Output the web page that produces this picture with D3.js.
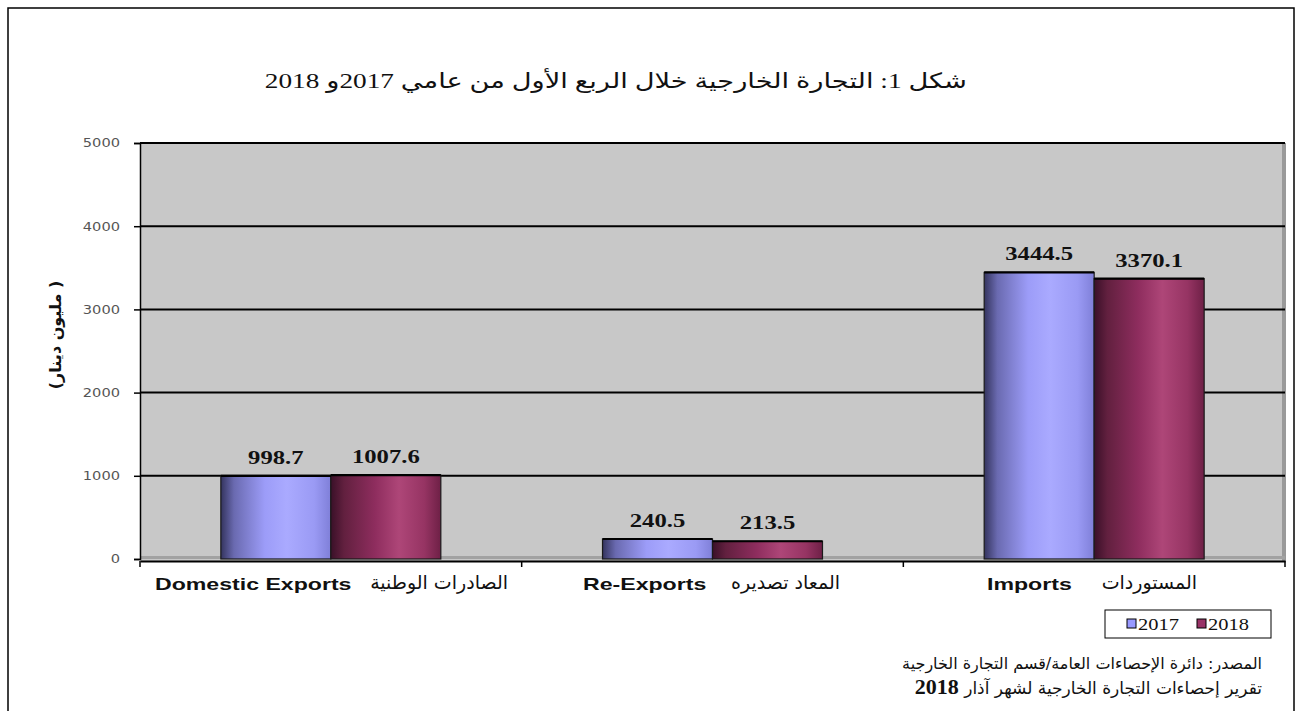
<!DOCTYPE html>
<html><head><meta charset="utf-8">
<script src="https://cdn.jsdelivr.net/npm/d3@7"></script>
<style>body{margin:0;background:#fff}svg{display:block}</style>
</head><body>
<svg id="c" width="1298" height="711"></svg>
<script>
const categoriesEn = ["Domestic Exports", "Re-Exports", "Imports"];
const categoriesAr = ["الصادرات الوطنية", "المعاد تصديره", "المستوردات"];
const series = ["2017", "2018"];
const values2017 = [998.7, 240.5, 3444.5];
const values2018 = [1007.6, 213.5, 3370.1];
const yTicks = [0, 1000, 2000, 3000, 4000, 5000];
const titleText = "شكل 1: التجارة الخارجية خلال الربع الأول من عامي  2017و 2018";
const yTitle = "( مليون دينار)";
const source1 = "المصدر: دائرة الإحصاءات العامة/قسم التجارة الخارجية";
const source2 = "تقرير إحصاءات التجارة الخارجية لشهر آذار";
const source2Year = "2018";

const svg = d3.select("#c");
const M = {l:140, r:1285, t:143, b:559};
const SX = 1.3; // horizontal stretch of the reference's text

// frame
svg.append("rect").attr("x",8).attr("y",8).attr("width",1286).attr("height",720)
  .attr("fill","none").attr("stroke","#000").attr("stroke-width",1.5);

const x0 = d3.scaleBand().domain(categoriesEn).range([M.l, M.r]).paddingInner(0).paddingOuter(0);
const x1 = d3.scaleBand().domain(series).range([0, x0.bandwidth()]).paddingInner(0).paddingOuter(0.735);
const y = d3.scaleLinear().domain([0,5000]).range([M.b, M.t]);

const defs = svg.append("defs");
function grad(id, stops){
  const g = defs.append("linearGradient").attr("id",id).attr("x1","0").attr("x2","1").attr("y1","0").attr("y2","0");
  stops.forEach(s=>g.append("stop").attr("offset",s[0]).attr("stop-color",s[1]));
}
grad("g2017", [[0,"#34345e"],[0.12,"#6a6ab0"],[0.4,"#9c9cf8"],[0.6,"#aaaaff"],[0.85,"#9a9af4"],[1,"#7f7fd8"]]);
grad("g2018", [[0,"#3a1028"],[0.12,"#62203f"],[0.4,"#8e2d5e"],[0.62,"#ae4678"],[0.85,"#963463"],[1,"#6e2046"]]);

// plot background
svg.append("rect").attr("x",M.l).attr("y",M.t).attr("width",M.r-M.l).attr("height",M.b-M.t+2).attr("fill","#c8c8c8");
svg.append("rect").attr("x",M.r-3).attr("y",M.t).attr("width",4).attr("height",M.b-M.t+2).attr("fill","#9a9a9a");
svg.append("rect").attr("x",M.l).attr("y",M.b-3).attr("width",M.r-M.l).attr("height",3).attr("fill","#a2a2a2");

// gridlines
svg.append("g").selectAll("line").data(yTicks.filter(d=>d>0)).join("line")
  .attr("x1",M.l).attr("x2",M.r).attr("y1",d=>y(d)).attr("y2",d=>y(d))
  .attr("stroke","#000").attr("stroke-width",2);

// y axis
const yAxis = svg.append("g").attr("transform",`translate(${M.l},0)`)
  .call(d3.axisLeft(y).tickValues(yTicks).tickSize(6).tickPadding(14).tickFormat(d3.format("d")));
yAxis.select(".domain").attr("stroke","#000").attr("stroke-width",1.5);
yAxis.selectAll(".tick line").attr("stroke","#000").attr("stroke-width",1.5);
yAxis.selectAll(".tick text").attr("font-family","DejaVu Sans, sans-serif").attr("font-size",12).attr("fill","#555")
  .attr("transform",function(){ const x=+d3.select(this).attr("x"); return `translate(${x},0) scale(1.22,1) translate(${-x},0)`; });

// x axis line
const xAxisG = svg.append("g").attr("transform",`translate(0,${M.b+2})`)
  .call(d3.axisBottom(x0).tickSize(0).tickFormat(""));
xAxisG.select(".domain").attr("stroke","#000").attr("stroke-width",2);
svg.append("g").selectAll("line").data(categoriesEn).join("line")
  .attr("x1",d=>x0(d)).attr("x2",d=>x0(d)).attr("y1",M.b+2).attr("y2",M.b+8)
  .attr("stroke","#000").attr("stroke-width",1.5);
svg.append("line").attr("x1",M.r).attr("x2",M.r).attr("y1",M.b+2).attr("y2",M.b+8).attr("stroke","#000").attr("stroke-width",1.5);

// bars
const rows = categoriesEn.map((c,i)=>({cat:c, vals:[{s:"2017",v:values2017[i]},{s:"2018",v:values2018[i]}]}));
const grp = svg.append("g").selectAll("g").data(rows).join("g").attr("transform",d=>`translate(${x0(d.cat)},0)`);
grp.selectAll("rect").data(d=>d.vals).join("rect")
  .attr("x",d=>x1(d.s)).attr("width",x1.bandwidth())
  .attr("y",d=>y(d.v)).attr("height",d=>M.b-y(d.v))
  .attr("fill",d=>`url(#g${d.s})`).attr("stroke","#1a1a1a").attr("stroke-width",1.2);
grp.selectAll("line.top").data(d=>d.vals).join("line").attr("class","top")
  .attr("x1",d=>x1(d.s)).attr("x2",d=>x1(d.s)+x1.bandwidth())
  .attr("y1",d=>y(d.v)).attr("y2",d=>y(d.v)).attr("stroke","#000").attr("stroke-width",2.2);
grp.selectAll("text").data(d=>d.vals).join("text")
  .attr("transform",d=>`translate(${x1(d.s)+x1.bandwidth()/2},${y(d.v)-12}) scale(${SX},1)`)
  .attr("text-anchor","middle").attr("font-family","Liberation Serif, serif").attr("font-weight","bold")
  .attr("font-size",19).attr("fill","#111").text(d=>d.v.toFixed(1));

// category labels
const enX = [155, 583, 987];
const arX = [508, 840, 1197];
const catLab = svg.append("g");
categoriesEn.forEach((c,i)=>{
  catLab.append("text").attr("transform",`translate(${enX[i]},590) scale(1.36,1)`)
    .attr("font-family","Liberation Sans, Arial, sans-serif").attr("font-weight","bold").attr("font-size",17)
    .attr("fill","#111").text(c);
  catLab.append("text").attr("x",arX[i]).attr("y",589)
    .attr("text-anchor","end").attr("font-family","DejaVu Sans, sans-serif").attr("font-size",19)
    .attr("fill","#111").text(categoriesAr[i]);
});

// title
svg.append("text").attr("transform",`translate(967,88) scale(${SX},1)`).attr("direction","rtl").attr("text-anchor","start")
  .attr("font-family","Liberation Serif, DejaVu Sans, serif").attr("font-size",21).attr("fill","#111")
  .text(titleText);

// y title
svg.append("text").attr("transform","translate(61,335) rotate(-90)").attr("text-anchor","middle")
  .attr("direction","rtl").attr("font-family","DejaVu Sans, sans-serif").attr("font-weight","bold")
  .attr("font-size",16).attr("fill","#111").text(yTitle);

// legend
const lg = svg.append("g");
lg.append("rect").attr("x",1105).attr("y",610).attr("width",166).attr("height",28).attr("fill","#fff").attr("stroke","#000").attr("stroke-width",1);
series.forEach((s,i)=>{
  const lx = 1127 + i*70;
  lg.append("rect").attr("x",lx).attr("y",619).attr("width",9).attr("height",9)
    .attr("fill", i===0?"#9999ff":"#993366").attr("stroke","#000").attr("stroke-width",1);
  lg.append("text").attr("transform",`translate(${lx+11},630) scale(1.28,1)`).attr("font-family","Liberation Serif, serif").attr("font-size",16)
    .attr("fill","#111").text(s);
});

// source
svg.append("text").attr("x",1262).attr("y",669).attr("direction","rtl").attr("text-anchor","start")
  .attr("font-family","DejaVu Sans, sans-serif").attr("font-size",16).attr("fill","#111").text(source1);
const s2 = svg.append("text").attr("x",1262).attr("y",694).attr("direction","rtl").attr("text-anchor","start")
  .attr("font-family","DejaVu Sans, sans-serif").attr("font-size",17).attr("fill","#111");
s2.append("tspan").text(source2 + " ");
s2.append("tspan").attr("font-family","Liberation Serif, serif").attr("font-weight","bold").attr("font-size",22).text(source2Year);
</script>
</body></html>
